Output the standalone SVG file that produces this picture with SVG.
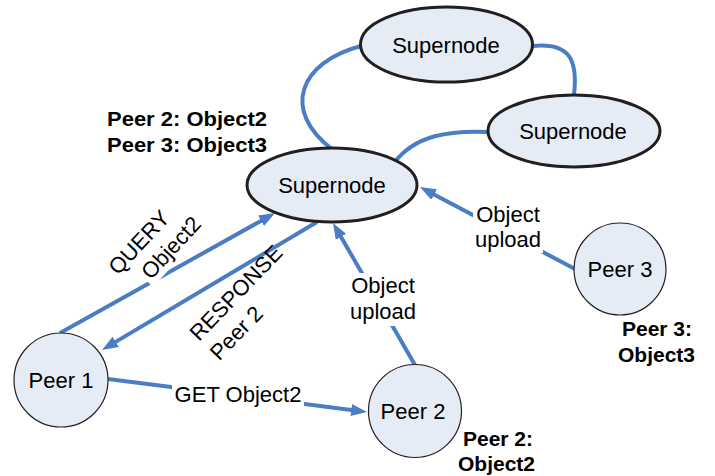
<svg xmlns="http://www.w3.org/2000/svg" width="715" height="476" viewBox="0 0 715 476">
<style>
.sn{fill:#E6ECF6;stroke:#231F20;stroke-width:3}
.pe{fill:#E6ECF6;stroke:#231F20;stroke-width:1.2}
.t{font-family:"Liberation Sans",Arial,sans-serif;font-size:22px;fill:#000;text-anchor:middle}
.tl{font-family:"Liberation Sans",Arial,sans-serif;font-size:22px;fill:#000}
.b{font-family:"Liberation Sans",Arial,sans-serif;font-size:21px;font-weight:bold;fill:#000}
.c{fill:none;stroke:#4A7DC4;stroke-width:4}
.a{marker-end:url(#ah)}
.bg{fill:#fff}
</style>
<defs>
<marker id="ah" markerUnits="userSpaceOnUse" markerWidth="16" markerHeight="12" refX="6" refY="6" orient="auto">
<path d="M0,0 L16,6 L0,12 z" fill="#4A7DC4"/>
</marker>
</defs>
<g id="connectors">
<path class="c" d="M361,46 C300,62 280,110 333,150"/>
<path class="c" d="M532,46 C570,42 578,60 574,95"/>
<path class="c" d="M394,163 C415,135 450,130 489,132"/>
<path class="c a" d="M60,333 L266.3,217.9"/>
<path class="c a" d="M317,222 L110.6,344.9"/>
<path class="c a" d="M415,365 L338,231.7"/>
<path class="c a" d="M575,269 L428.8,191.7"/>
<path class="c a" d="M108,379 L357.1,410.7"/>
</g>
<g id="supernode-top"><ellipse class="sn" cx="446.5" cy="44.5" rx="86" ry="37.5"/><text class="t" x="446" y="53">Supernode</text></g>
<g id="supernode-right"><ellipse class="sn" cx="574" cy="131" rx="86" ry="36"/><text class="t" x="573" y="139">Supernode</text></g>
<g id="supernode-left"><ellipse class="sn" cx="332" cy="185" rx="85" ry="37"/><text class="t" x="332" y="193">Supernode</text></g>
<g id="peer1"><circle class="pe" cx="61" cy="380" r="47"/><text class="t" x="61" y="388">Peer 1</text></g>
<g id="peer2"><circle class="pe" cx="415" cy="411" r="46.5"/><text class="t" x="413" y="419">Peer 2</text></g>
<g id="peer3"><circle class="pe" cx="620" cy="269" r="46"/><text class="t" x="620" y="277">Peer 3</text></g>
<g id="labels">
<text class="b" x="107" y="126" textLength="160" lengthAdjust="spacingAndGlyphs">Peer 2: Object2</text>
<text class="b" x="107" y="152" textLength="160" lengthAdjust="spacingAndGlyphs">Peer 3: Object3</text>
<text class="b" x="463" y="446">Peer 2:</text>
<text class="b" x="458" y="471">Object2</text>
<text class="b" x="622" y="336">Peer 3:</text>
<text class="b" x="618" y="362">Object3</text>
<rect class="bg" x="172" y="384" width="132" height="24"/>
<text class="t" x="238" y="402">GET Object2</text>
<rect class="bg" x="348" y="273" width="70" height="53"/>
<text class="t" x="383" y="293">Object</text>
<text class="t" x="383" y="319">upload</text>
<rect class="bg" x="473" y="200" width="70" height="53"/>
<text class="t" x="508" y="222">Object</text>
<text class="t" x="508" y="247">upload</text>
<g transform="translate(118,276) rotate(-47)">
<text class="tl" x="0" y="0">QUERY</text>
<rect class="bg" x="16" y="11" width="78" height="22"/>
<text class="tl" x="19" y="27">Object2</text>
</g>
<g transform="translate(199,342) rotate(-46)">
<text class="tl" x="0" y="0">RESPONSE</text>
<text class="tl" x="0" y="28">Peer 2</text>
</g>
</g>
</svg>
